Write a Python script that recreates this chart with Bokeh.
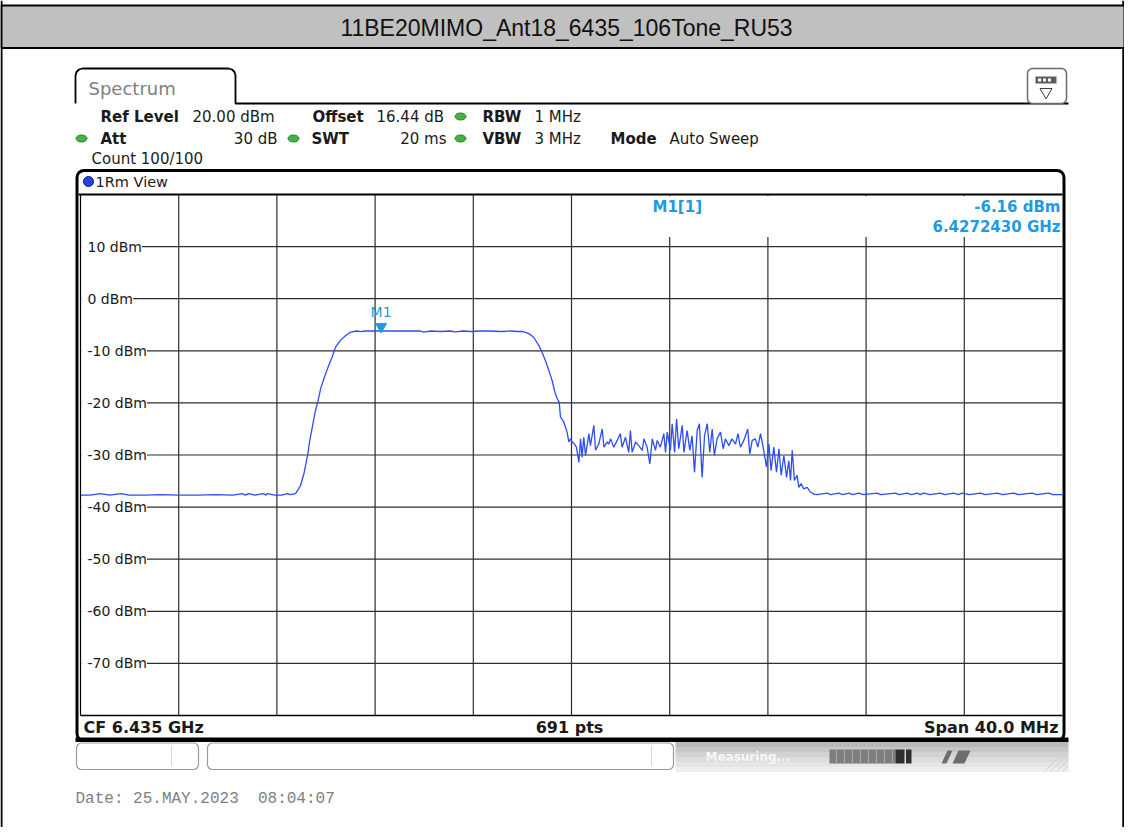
from bokeh.plotting import figure
from bokeh.models import Range1d
from bokeh.core.properties import value
from bokeh.embed import file_html
from bokeh.resources import INLINE

# ---------------- values ----------------
chart_title = "11BE20MIMO_Ant18_6435_106Tone_RU53"
center_freq_mhz = 6435.0
span_mhz = 40.0
sweep_points = 691
ref_level_dbm = 20.0
db_per_div = 10.0
divisions = 10

x_grid_mhz = [6415, 6419, 6423, 6427, 6431, 6435, 6439, 6443, 6447, 6451, 6455]
y_grid_dbm = [20, 10, 0, -10, -20, -30, -40, -50, -60, -70, -80]
y_tick_dbm = [10, 0, -10, -20, -30, -40, -50, -60, -70]
y_tick_labels = ["10 dBm", "0 dBm", "-10 dBm", "-20 dBm", "-30 dBm",
                 "-40 dBm", "-50 dBm", "-60 dBm", "-70 dBm"]

trace_freq_mhz = [
    6415.00, 6415.40, 6415.81, 6416.20, 6416.63, 6417.00, 6417.60, 6418.30, 6419.00, 6419.80,
    6420.50, 6421.20, 6421.60, 6421.72, 6421.84, 6422.10, 6422.45, 6422.55, 6422.62, 6422.90,
    6423.20, 6423.43, 6423.55,
    6423.76, 6423.96, 6424.10, 6424.17, 6424.26, 6424.34, 6424.44, 6424.57, 6424.68, 6424.78,
    6424.91, 6425.11, 6425.25, 6425.39, 6425.59, 6425.79, 6426.00, 6426.27,
    6426.41, 6426.61, 6426.81, 6427.24, 6427.83, 6428.40, 6428.85, 6428.98, 6429.26, 6429.66,
    6430.07, 6430.27, 6430.60, 6430.89, 6431.29, 6431.70, 6432.11, 6432.52, 6432.80, 6433.04,
    6433.26, 6433.46, 6433.67, 6433.80, 6433.94, 6434.08, 6434.21, 6434.32, 6434.42, 6434.50,
    6434.55, 6434.69, 6434.82, 6434.89,
    6434.96, 6435.03, 6435.12, 6435.20, 6435.30, 6435.37, 6435.43, 6435.50, 6435.57, 6435.71,
    6435.77, 6435.91, 6435.98, 6436.11, 6436.25, 6436.32, 6436.45, 6436.52, 6436.59, 6436.72,
    6436.86, 6436.99, 6437.06, 6437.20, 6437.33, 6437.40, 6437.47, 6437.61, 6437.74, 6437.88,
    6437.95, 6438.08, 6438.19, 6438.29, 6438.42, 6438.49, 6438.62, 6438.76, 6438.83, 6438.90,
    6439.03, 6439.10, 6439.20, 6439.28, 6439.37, 6439.51, 6439.58, 6439.71, 6439.82, 6439.91,
    6440.01, 6440.12, 6440.21, 6440.32, 6440.42, 6440.53, 6440.63, 6440.73, 6440.82, 6440.93,
    6441.07, 6441.18, 6441.27, 6441.41, 6441.54, 6441.68, 6441.78, 6441.88, 6442.02, 6442.18,
    6442.26, 6442.36, 6442.49, 6442.59, 6442.70, 6442.83, 6442.94, 6443.04, 6443.13, 6443.24,
    6443.35, 6443.45, 6443.54, 6443.65, 6443.76, 6443.85, 6443.92, 6443.99, 6444.08, 6444.19,
    6444.26, 6444.35, 6444.46, 6444.60, 6444.73, 6444.87, 6445.01,
    6445.41, 6445.55, 6445.89, 6446.05, 6446.30, 6446.45, 6446.70, 6446.90, 6447.45, 6447.60,
    6448.20, 6448.35, 6448.67, 6448.85, 6449.08, 6449.20, 6449.35, 6449.60, 6450.03, 6450.20,
    6450.57, 6450.75, 6450.91, 6451.20, 6451.66, 6451.85, 6452.35, 6452.55, 6453.02, 6453.20,
    6453.77, 6453.95, 6454.44, 6454.60, 6455.00,
]
trace_level_dbm = [
    -37.7, -37.7, -37.4, -37.7, -37.4, -37.7, -37.7, -37.6, -37.7, -37.7,
    -37.6, -37.7, -37.4, -37.7, -37.4, -37.7, -37.4, -37.7, -37.4, -37.7,
    -37.7, -37.4, -37.6,
    -37.4, -35.9, -33.6, -32.0, -29.8, -27.2, -24.7, -21.5, -19.5, -17.3,
    -15.4, -12.8, -11.2, -9.3, -8.0, -7.1, -6.4, -6.2,
    -6.3, -6.2, -6.2, -6.16, -6.2, -6.2, -6.2, -6.4, -6.2, -6.3,
    -6.2, -6.35, -6.2, -6.3, -6.2, -6.2, -6.3, -6.2, -6.3, -6.3,
    -6.7, -7.4, -9.0, -10.3, -11.9, -13.8, -15.7, -17.9, -19.2, -19.9,
    -22.7, -23.7, -25.6, -27.5,
    -26.9, -27.5, -27.9, -28.5, -31.4, -26.9, -30.4, -26.6, -30.1, -25.9,
    -28.2, -24.3, -29.1, -27.9, -25.0, -28.5, -27.5, -27.9, -26.9, -28.5,
    -27.2, -25.9, -28.5, -26.6, -29.5, -25.3, -29.5, -27.5, -28.2, -29.1,
    -26.9, -28.5, -31.7, -26.9, -29.1, -27.2, -28.5, -25.9, -29.5, -25.6,
    -29.1, -24.0, -29.5, -23.1, -28.8, -24.3, -29.5, -25.3, -29.1, -26.3,
    -33.3, -25.3, -24.0, -34.3, -26.3, -24.0, -29.5, -25.0, -30.1, -26.9,
    -25.6, -28.8, -26.9, -28.2, -26.9, -27.9, -25.9, -28.5, -27.2, -25.0,
    -29.8, -27.2, -26.9, -28.5, -25.9, -29.1, -32.3, -27.9, -33.0, -28.5,
    -33.3, -28.8, -33.9, -30.1, -34.3, -31.1, -34.9, -29.1, -34.9, -33.9,
    -36.2, -35.5, -36.5, -36.2, -37.1, -37.5, -37.6,
    -37.3, -37.6, -37.3, -37.6, -37.3, -37.6, -37.3, -37.6, -37.3, -37.6,
    -37.3, -37.6, -37.3, -37.6, -37.3, -37.6, -37.3, -37.6, -37.3, -37.6,
    -37.3, -37.6, -37.3, -37.6, -37.3, -37.6, -37.3, -37.6, -37.3, -37.6,
    -37.3, -37.6, -37.3, -37.6, -37.6,
]

marker_name = "M1"
marker_freq_mhz = 6427.2430
marker_level_dbm = -6.16

settings_row1 = ["Ref Level", "20.00 dBm", "Offset", "16.44 dB", "RBW", "1 MHz"]
settings_row2 = ["Att", "30 dB", "SWT", "20 ms", "VBW", "3 MHz", "Mode", "Auto Sweep"]
count_text = "Count 100/100"
view_name = "1Rm View"
date_text = "Date: 25.MAY.2023\u00a0 08:04:07"

# ---------------- layout (reference-page pixels) ----------------
W, H = 1124, 827
PL, PR, PT, PB = 80, 1062, 194, 715

f_lo = center_freq_mhz - span_mhz / 2
f_hi = center_freq_mhz + span_mhz / 2
db_top = ref_level_dbm
db_bot = ref_level_dbm - divisions * db_per_div
kx = (PR - PL) / (f_hi - f_lo)
ky = (PB - PT) / (db_top - db_bot)


def X(px):
    return f_lo + (px - PL) / kx


def Y(py):
    return db_top - (py - PT) / ky


p = figure(width=W, height=H, output_backend="svg", toolbar_location=None,
           x_range=Range1d(X(0), X(W)), y_range=Range1d(Y(H), Y(0)),
           x_axis_location=None, y_axis_location=None, min_border=0)
p.outline_line_color = None
p.background_fill_color = "white"
p.border_fill_color = "white"
p.grid.visible = False

UI = "DejaVu Sans"


def box(x0, y0, x1, y1, fill="white", line=None, lw=1.0, radius=0):
    p.quad(left=[X(x0)], right=[X(x1)], top=[Y(y0)], bottom=[Y(y1)],
           fill_color=fill, line_color=line, line_width=lw, border_radius=radius)


def path(pts, color="black", lw=1.0):
    p.line(x=[X(a) for a, b in pts], y=[Y(b) for a, b in pts], line_color=color, line_width=lw)


def txt(px, py, s, size=15, color="#1a1a1a", bold=False, align="left", font=UI, **kw):
    p.text(x=[X(px)], y=[Y(py)], text=[s], text_font=value(font), text_font_size=f"{size}px",
           text_color=color, text_font_style="bold" if bold else "normal",
           text_align=align, text_baseline="middle", **kw)


def dot(px, py, w, h, fill, line):
    p.ellipse(x=[X(px)], y=[Y(py)], width=[w / kx], height=[h / ky],
              fill_color=fill, line_color=line, line_width=1)


# page border + header band
path([(1, 0), (1, 827)], lw=2)
path([(1122.8, 0), (1122.8, 827)], lw=2)
box(1, 5, 1124, 47.5, fill="#c0c0c0", line="black", lw=2)
txt(566, 27.5, chart_title, size=23, color="#111111", font="Liberation Sans", align="center")

# spectrum tab
path([(75, 103), (75, 75), (76, 71.5), (78.5, 69), (82, 68), (228, 68), (231.5, 69),
      (234, 71.5), (235, 75), (235, 103), (1068, 103)], lw=1.8)
txt(88, 88, "Spectrum", size=18, color="#808080")
box(1027, 68, 1066, 103, fill="white", line="#6a6a6a", lw=1.5, radius=5)
box(1035, 76, 1056, 83, fill="#5c5c5c")
for sx in (1037.5, 1042.5, 1047.5):
    box(sx, 78, sx + 3, 81, fill="white")
p.scatter(x=[X(1045.5)], y=[Y(91.5)], marker="inverted_triangle", size=12,
          fill_color="white", line_color="#3a3a3a", line_width=1)

# settings rows
GREEN, GREEN_LINE = "#44b244", "#2b7a2b"
txt(100, 116, settings_row1[0], bold=True)
txt(192, 116, settings_row1[1])
txt(312, 116, settings_row1[2], bold=True)
txt(376, 116, settings_row1[3])
dot(460, 116, 11, 7, GREEN, GREEN_LINE)
txt(482, 116, settings_row1[4], bold=True)
txt(534, 116, settings_row1[5])

dot(81, 138, 11, 7, GREEN, GREEN_LINE)
txt(100, 138, settings_row2[0], bold=True)
txt(277, 138, settings_row2[1], align="right")
dot(293, 138, 11, 7, GREEN, GREEN_LINE)
txt(311, 138, settings_row2[2], bold=True)
txt(446, 138, settings_row2[3], align="right")
dot(460, 138, 11, 7, GREEN, GREEN_LINE)
txt(482, 138, settings_row2[4], bold=True)
txt(534, 138, settings_row2[5])
txt(610, 138, settings_row2[6], bold=True)
txt(669, 138, settings_row2[7])
txt(91, 158, count_text)

# trace window frame
box(76.5, 170, 1063.5, 740, fill="white", line="black", lw=3, radius=7)
dot(88, 181, 10, 10, "#2244e0", "#10206a")
txt(95, 181, view_name, size=14.5)

# grid
GRID = "#2e2e2e"
for xg in x_grid_mhz[1:-1]:
    p.segment(x0=[xg], y0=[db_bot], x1=[xg], y1=[db_top], line_color=GRID, line_width=1.2)
for yg in y_grid_dbm[1:-1]:
    p.segment(x0=[f_lo], y0=[yg], x1=[f_hi], y1=[yg], line_color=GRID, line_width=1.2)

# blank areas behind marker read-out and level labels
box(574, 195.5, 1060.5, 236.5, fill="white")
box(80.8, 196, 87.2, 713, fill="white")
p.text(x=[X(87)] * len(y_tick_dbm), y=y_tick_dbm, text=y_tick_labels,
       text_font=value(UI), text_font_size="14px", text_color="#1a1a1a",
       text_align="left", text_baseline="middle", background_fill_color="white")

# trace
TRACE = "#2f4cf2"
p.line(x=trace_freq_mhz, y=trace_level_dbm, line_color=TRACE, line_width=1.3)

# marker
MK = "#1f9ae3"
p.scatter(x=[marker_freq_mhz], y=[marker_level_dbm + 4.2 / ky], marker="inverted_triangle",
          size=11, fill_color=MK, line_color=MK)
p.text(x=[marker_freq_mhz], y=[marker_level_dbm + 18.5 / ky], text=[marker_name],
       text_font=value(UI), text_font_size="14px", text_color=MK,
       text_align="center", text_baseline="middle")
txt(652, 206, f"{marker_name}[1]", size=15, color=MK, bold=True)
txt(1060, 206, f"{marker_level_dbm:.2f} dBm", size=15, color=MK, bold=True, align="right")
txt(1060, 226, f"{marker_freq_mhz / 1000:.7f} GHz", size=15, color=MK, bold=True, align="right")

# plot frame lines
path([(80, 194), (80, 715)], lw=1.2)
path([(78, 194), (1062, 194)], lw=2)
path([(80, 715), (1062, 715)], lw=1.4)

# footer strip texts
txt(83, 726.5, f"CF {center_freq_mhz / 1000:.3f} GHz", size=16, bold=True)
txt(569, 726.5, f"{sweep_points} pts", size=16, bold=True, align="center")
txt(1058, 726.5, f"Span {span_mhz:.1f} MHz", size=16, bold=True, align="right")
box(75, 737, 1068, 741.5, fill="black")

# status bar
shades = ["#b9b9b9", "#c6c6c6", "#d2d2d2", "#dcdcdc", "#e5e5e5", "#eeeeee"]
for i, c in enumerate(shades):
    box(675, 741.5 + 5 * i, 1068, 746.5 + 5 * i, fill=c)
box(76, 742.5, 198, 769, fill="white", line="#9a9a9a", lw=1.2, radius=5)
box(207, 742.5, 673, 769, fill="white", line="#9a9a9a", lw=1.2, radius=5)
path([(171, 745), (171, 766)], color="#d8d8d8", lw=1)
path([(651, 745), (651, 766)], color="#d8d8d8", lw=1)
txt(705, 756, "Measuring...", size=12, color="#f7f7f7", bold=True)
box(829, 749, 895, 763, fill="#7e7e7e")
for sx in range(836, 895, 8):
    path([(sx, 749), (sx, 763)], color="#a8a8a8", lw=1)
box(895, 749, 904, 763, fill="#2e2e2e")
box(905.5, 749, 911, 763, fill="#2e2e2e")
p.patches(xs=[[X(941), X(947), X(952), X(946)], [X(952), X(958), X(970), X(964)]],
          ys=[[Y(763), Y(750), Y(750), Y(763)], [Y(763), Y(750), Y(750), Y(763)]],
          fill_color="#6e6e6e", line_color=None)
for k in range(4):
    path([(1044 + 6 * k, 771), (1068, 747 + 6 * k)], color="#cfcfcf", lw=1)

# date stamp
txt(75, 798, date_text, size=16, color="#808080", font="Liberation Mono")

open("out.html", "w").write(file_html(p, INLINE, title=chart_title))
